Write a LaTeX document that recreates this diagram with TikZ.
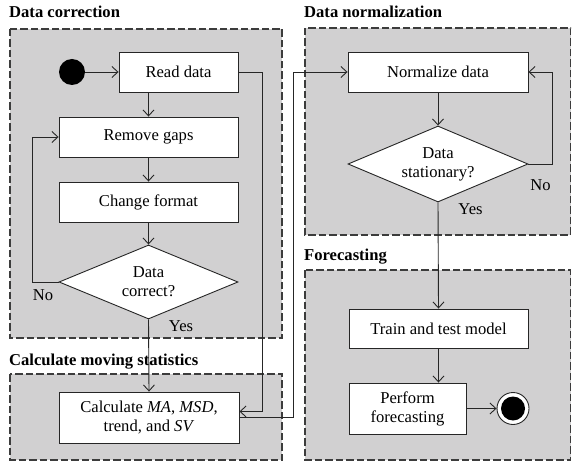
\documentclass[tikz,border=0pt]{standalone}
\usepackage{fontspec}
\setmainfont{Liberation Serif}
\usepackage{tikz}
\usetikzlibrary{shapes, arrows.meta, positioning, calc}
\definecolor{panelgray}{RGB}{209, 208, 209}
\definecolor{edgegray}{RGB}{60, 60, 60}

\begin{document}
\begin{tikzpicture}[x=1pt, y=-1pt,
  panel/.style={draw=edgegray, fill=panelgray, line width=1.1pt, dash pattern=on 7.5pt off 3pt},
  ptitle/.style={anchor=base west, inner sep=0pt, font=\fontsize{16.6}{19}\selectfont\bfseries},
  abox/.style={draw=black!85, fill=white, line width=0.9pt, align=center, inner sep=2pt, font=\fontsize{16.6}{19}\selectfont},
  adec/.style={abox, diamond, aspect=2.4, inner sep=0pt},
  lbl/.style={inner sep=1pt, font=\fontsize{16.6}{19}\selectfont},
  flow/.style={draw=black!85, line width=0.9pt, -{Straight Barb[length=6pt, width=11pt]}}
]
  \useasboundingbox (0, 0) rectangle (572, 462);

  \draw[panel] (10, 29) rectangle (282, 338);
  \draw[panel] (10, 374) rectangle (282, 460);
  \draw[panel] (305, 28) rectangle (570.5, 235);
  \draw[panel] (305, 270) rectangle (570.5, 460);

  \node[ptitle] (tcorr) at (9, 18) {Data correction};
  \node[ptitle] (tstat) at (9, 365) {Calculate moving statistics};
  \node[ptitle] (tnorm) at (304, 18) {Data normalization};
  \node[ptitle] (tfore) at (304, 260) {Forecasting};

  \node[circle, fill=black, minimum size=26pt, inner sep=0pt] (start) at (72, 72) {};
  \node[abox, minimum width=119pt, minimum height=40pt] (read) at (178.5, 72) {Read data};
  \node[abox, minimum width=179pt, minimum height=40pt] (gaps) at (148.5, 137) {Remove gaps};
  \node[abox, minimum width=179pt, minimum height=40pt] (format) at (148.5, 202) {Change format};
  \node[adec, minimum width=179pt, minimum height=74pt] (correct) at (148.5, 282) {Data\\correct?};
  \node[abox, minimum width=180pt, minimum height=51pt] (calc) at (149, 417.5)
    {Calculate \textit{MA}, \textit{MSD},\\trend, and \textit{SV}};

  \node[abox, minimum width=180pt, minimum height=40pt] (normal) at (438, 72) {Normalize data};
  \node[adec, minimum width=180pt, minimum height=76pt] (station) at (438, 164) {Data\\stationary?};
  \node[abox, minimum width=179pt, minimum height=39pt] (train) at (438.5, 328.5) {Train and test model};
  \node[abox, minimum width=117pt, minimum height=51pt] (perform) at (407.5, 408.5) {Perform\\forecasting};
  \node[circle, draw=black!85, fill=white, line width=0.9pt, minimum size=32pt, inner sep=0pt,
    path picture={\fill[black] (path picture bounding box.center) circle (12pt);}] (stop) at (513, 408.5) {};

  \draw[flow] (start) -- (read);
  \draw[flow] (read.south -| gaps.north) -- (gaps.north);
  \draw[flow] (gaps) -- (format);
  \draw[flow] (format) -- (correct);
  \draw[flow] (correct.west) -- node[lbl, pos=0.6, below=6pt] (no1) {No} ++(-26, 0) |- (gaps.west);
  \draw[flow] (correct.south) -- node[lbl, pos=0, below right, xshift=19pt] (yes1) {Yes} (calc.north);
  \draw[flow] (read.east) -- ++(24, 0) |- ([yshift=6pt]calc.east);
  \draw[flow] (calc.east) -- ++(54, 0) |- (normal.west);

  \draw[flow] (normal) -- (station);
  \draw[flow] (station.east) -- node[lbl, pos=0.5, below=14pt] (no2) {No} ++(24, 0) |- (normal.east);
  \draw[flow] (station.south) -- node[lbl, pos=0, below right, xshift=19pt] (yes2) {Yes} (train.north);
  \draw[flow] (train.south) -- (train.south |- perform.north);
  \draw[flow] (perform) -- (stop);
\end{tikzpicture}
\end{document}
